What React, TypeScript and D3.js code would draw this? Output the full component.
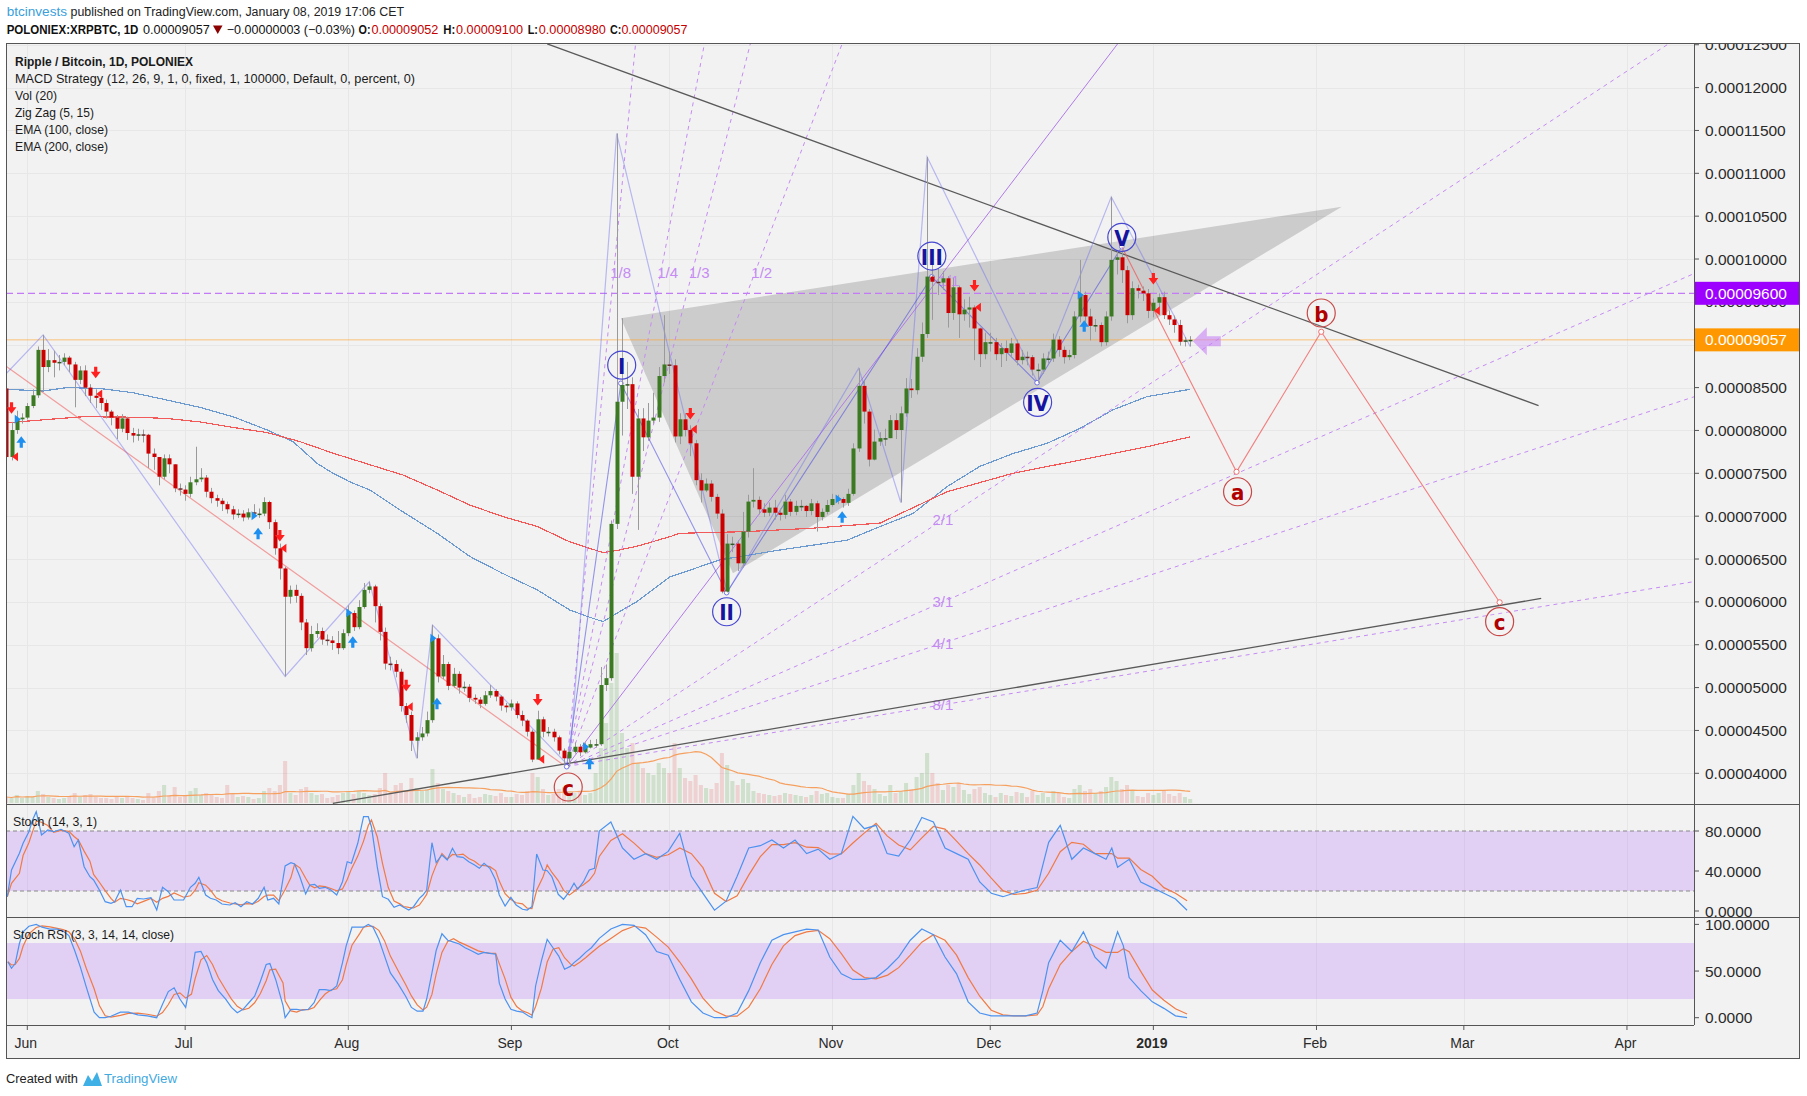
import React from "react";
import * as d3 from "d3";

// ---------------- DATA (prices in units of 1e-6 BTC: 90.57 = 0.00009057) ----------------
const JUN1 = Date.UTC(2018, 5, 1);
const DAY = 86400000;
const FIRST_DAY = -4; // 2018-05-28 (days counted from 2018-06-01)
const FIRST_OPEN = 84.9;

const closeMay = [76.9, 80.05, 81.3, 81.5];
const highMay = [85.5, 81.0, 82.3, 82.0];
const lowMay = [76.2, 76.5, 79.6, 80.8];

const closeJun = [82.85, 84.1, 89.4, 87.4, 88.2, 87.9, 88.0, 88.5, 87.7, 85.9, 87.0, 85.0, 84.05, 83.8, 83.2, 82.2, 81.5, 80.2, 81.4, 79.7, 79.4, 79.55, 79.5, 77.3, 76.9, 74.6, 76.75, 76.05, 73.25, 73.1];
const highJun = [83.2, 84.8, 89.8, 91.15, 89.5, 89.3, 88.8, 89.0, 88.7, 88.0, 87.5, 87.6, 85.4, 84.8, 84.0, 83.6, 82.4, 81.8, 81.9, 81.6, 80.3, 80.2, 80.1, 79.6, 77.9, 76.9, 77.2, 77.2, 76.0, 73.8];
const lowJun = [81.3, 82.6, 83.8, 84.6, 86.8, 86.2, 87.0, 87.6, 86.8, 82.7, 85.4, 84.0, 83.2, 82.6, 82.4, 81.4, 80.6, 79.0, 79.8, 78.9, 78.6, 78.8, 78.6, 75.6, 75.4, 73.6, 74.3, 75.0, 72.8, 72.4];

const closeJul = [72.6, 73.95, 74.3, 74.5, 72.85, 72.1, 71.8, 71.4, 70.8, 70.2, 70.3, 69.85, 70.45, 70.3, 70.3, 71.65, 69.3, 66.25, 63.9, 60.6, 61.4, 60.7, 57.6, 54.6, 56.25, 56.6, 55.6, 55.5, 55.2, 54.6, 56.35];
const highJul = [73.6, 74.6, 78.1, 75.6, 74.8, 73.3, 72.5, 72.1, 71.7, 71.2, 70.8, 70.7, 70.9, 71.4, 70.9, 72.2, 71.8, 69.6, 66.8, 64.1, 61.9, 62.0, 61.0, 58.0, 57.2, 57.5, 57.0, 56.2, 56.0, 56.6, 56.8];
const lowJul = [71.8, 72.2, 73.6, 74.0, 72.2, 71.5, 71.1, 70.6, 70.3, 69.6, 69.8, 69.4, 69.6, 69.9, 69.8, 70.0, 68.5, 65.5, 62.6, 51.3, 59.8, 59.9, 56.7, 53.8, 54.2, 55.8, 55.0, 54.9, 54.4, 53.9, 54.4];

const closeAug = [58.7, 57.05, 59.4, 61.4, 61.8, 59.5, 56.5, 52.8, 52.75, 51.85, 47.85, 46.8, 43.8, 44.2, 44.65, 46.2, 55.75, 51.3, 52.75, 50.2, 51.6, 50.0, 50.1, 48.8, 48.6, 48.1, 49.1, 49.6, 48.95, 47.9, 47.7];
const highAug = [59.6, 59.0, 60.2, 62.2, 62.35, 62.0, 59.8, 57.0, 53.6, 53.2, 52.2, 48.2, 47.2, 44.8, 45.4, 47.2, 57.3, 56.2, 53.8, 53.0, 52.3, 51.9, 50.7, 50.4, 49.2, 48.9, 49.6, 50.3, 49.8, 49.1, 48.2];
const lowAug = [56.0, 56.6, 56.8, 59.2, 61.0, 57.6, 55.5, 52.1, 52.0, 51.2, 47.2, 45.9, 42.6, 41.75, 43.8, 44.3, 45.9, 50.6, 51.0, 49.7, 50.0, 49.3, 49.5, 48.3, 48.1, 47.6, 47.9, 48.8, 48.4, 47.3, 47.1];

const closeSep = [48.15, 46.8, 46.15, 44.85, 41.6, 46.3, 44.85, 44.85, 44.2, 42.65, 41.75, 42.5, 43.1, 42.45, 43.0, 43.4, 43.4, 50.3, 51.1, 69.1, 83.35, 85.3, 85.4, 74.6, 81.4, 79.2, 81.15, 81.5, 86.35, 87.7];
const highSep = [48.6, 48.4, 47.3, 46.3, 45.1, 47.3, 46.6, 45.4, 45.2, 44.4, 42.9, 42.8, 43.6, 43.4, 43.6, 43.9, 44.0, 52.4, 52.7, 69.5, 114.65, 93.1, 88.0, 86.2, 82.5, 82.6, 83.2, 84.4, 87.4, 93.45];
const lowSep = [47.3, 46.4, 45.5, 44.3, 41.3, 41.6, 44.2, 44.3, 43.7, 42.2, 41.2, 40.8, 42.3, 42.0, 42.3, 42.9, 43.0, 43.2, 49.6, 50.8, 68.5, 79.4, 82.5, 72.6, 68.4, 77.6, 78.8, 80.8, 81.0, 85.6];

const closeOct = [87.6, 79.3, 81.3, 80.05, 78.5, 74.2, 73.0, 73.8, 72.25, 70.3, 61.2, 66.8, 66.8, 64.5, 68.2, 71.7, 71.9, 70.8, 70.4, 71.0, 70.4, 70.15, 71.7, 70.5, 71.2, 71.2, 70.6, 71.5, 69.9, 70.5, 71.3];
const highOct = [89.2, 88.3, 82.0, 82.0, 80.6, 78.9, 75.0, 74.4, 74.2, 72.6, 70.8, 67.9, 67.6, 67.2, 70.5, 72.5, 75.6, 72.3, 71.5, 71.6, 71.9, 70.9, 72.5, 72.0, 71.8, 71.9, 71.3, 72.0, 71.8, 70.9, 71.9];
const lowOct = [86.6, 78.6, 78.4, 79.3, 77.0, 73.6, 71.6, 72.8, 71.7, 69.7, 61.0, 61.1, 65.8, 63.6, 64.0, 67.5, 71.0, 70.2, 69.9, 70.0, 69.6, 69.5, 69.7, 70.0, 70.1, 70.6, 69.9, 70.1, 68.2, 69.5, 70.2];

const closeNov = [72.0, 72.0, 71.55, 72.6, 77.9, 85.2, 82.2, 76.6, 78.7, 79.1, 79.1, 81.2, 80.05, 82.0, 84.9, 84.7, 88.6, 91.25, 97.95, 97.35, 97.25, 97.75, 93.7, 96.7, 93.55, 94.1, 94.35, 91.9, 88.9, 90.3];
const highNov = [72.6, 72.5, 72.2, 73.2, 78.5, 87.25, 85.8, 82.5, 80.1, 79.8, 80.2, 81.8, 82.0, 82.8, 86.1, 86.0, 89.6, 92.6, 111.9, 99.5, 98.9, 98.6, 98.0, 97.8, 96.9, 95.3, 95.6, 94.6, 92.0, 91.4];
const lowNov = [71.1, 71.4, 71.0, 71.2, 72.4, 77.5, 80.8, 75.8, 76.5, 78.2, 78.2, 79.5, 79.0, 71.6, 81.6, 83.8, 84.2, 88.0, 90.8, 92.9, 95.8, 96.4, 92.0, 92.9, 90.8, 92.8, 92.0, 88.2, 87.4, 88.3];

const closeDec = [90.3, 88.9, 89.6, 89.05, 90.15, 88.2, 88.6, 88.55, 87.1, 87.1, 88.4, 88.4, 90.6, 89.4, 88.55, 88.8, 93.3, 95.8, 93.3, 92.2, 92.3, 90.3, 93.3, 99.9, 100.2, 98.7, 93.45, 96.6, 96.3, 96.0, 93.95];
const highDec = [91.4, 90.8, 90.2, 90.5, 90.8, 90.6, 89.4, 89.2, 88.8, 87.8, 89.0, 89.2, 91.3, 91.0, 89.8, 89.4, 93.9, 99.9, 96.2, 94.2, 93.0, 92.6, 93.9, 107.25, 101.0, 101.2, 99.2, 97.4, 97.0, 96.8, 96.5];
const lowDec = [89.2, 88.2, 87.4, 88.1, 88.5, 87.6, 87.7, 87.6, 86.4, 85.55, 86.6, 87.8, 88.0, 88.6, 87.8, 88.2, 88.4, 92.6, 92.2, 90.5, 91.5, 89.8, 89.9, 92.8, 98.2, 97.2, 92.5, 92.9, 95.4, 95.1, 93.1];

const closeJan = [94.9, 95.55, 93.45, 92.95, 92.3, 90.35, 90.52, 90.57];
const highJan = [95.4, 96.0, 96.2, 94.0, 93.4, 92.9, 90.9, 91.0];
const lowJan = [93.2, 94.4, 93.0, 92.3, 91.4, 89.9, 89.8, 89.8];

// volume (relative units)
const volMay = [6, 5, 8, 5];
const volJun = [7, 6, 12, 9, 6, 5, 4, 5, 7, 10, 6, 8, 9, 6, 5, 5, 4, 7, 5, 6, 5, 4, 3, 10, 5, 12, 18, 8, 16, 6];
const volJul = [7, 12, 15, 8, 10, 9, 6, 5, 18, 10, 6, 7, 6, 4, 5, 12, 15, 12, 18, 42, 10, 8, 14, 16, 10, 8, 9, 5, 6, 8, 10];
const volAug = [12, 9, 12, 10, 8, 9, 15, 30, 10, 18, 20, 12, 25, 15, 12, 14, 34, 20, 14, 12, 10, 8, 6, 9, 5, 6, 9, 8, 7, 10, 6];
const volSep = [6, 9, 8, 12, 30, 26, 14, 8, 9, 14, 16, 12, 10, 12, 8, 10, 30, 55, 80, 120, 150, 70, 55, 60, 40, 35, 30, 28, 40, 35];
const volOct = [30, 60, 35, 25, 22, 28, 18, 15, 14, 20, 50, 38, 22, 18, 24, 20, 12, 10, 9, 8, 7, 8, 10, 9, 8, 7, 6, 8, 12, 9, 10];
const volNov = [6, 5, 5, 9, 18, 30, 22, 18, 14, 9, 7, 18, 10, 12, 20, 14, 26, 30, 50, 30, 20, 13, 18, 16, 20, 13, 9, 14, 16, 10];
const volDec = [8, 6, 10, 8, 7, 11, 10, 6, 12, 8, 10, 6, 12, 10, 6, 5, 14, 18, 12, 14, 10, 12, 16, 26, 22, 14, 18, 13, 7, 6, 10];
const volJan = [8, 10, 12, 9, 7, 10, 6, 4];

// EMA readings (day, value)
const ema100Day = [-3.9, 3, 7.5, 13.8, 20.1, 26.5, 32.8, 39.1, 45.6, 50.5, 55.1, 58.1, 61.3, 65.1, 71.4, 77.9, 84.1, 90.4, 96.9, 103.1, 106.4, 109.4, 112.1, 115.9, 122.1, 131.6, 143.0, 155.8, 162.1, 168.3, 174.8, 181.0, 187.3, 193.8, 200.1, 206.3, 212.8, 221];
const ema100Val = [84.8, 84.6, 85.0, 84.9, 84.4, 83.55, 82.7, 81.6, 80.05, 78.7, 76.15, 75.0, 74.0, 73.05, 70.5, 68.0, 65.3, 63.3, 61.4, 59.05, 58.3, 57.7, 58.7, 60.05, 62.9, 64.9, 66.05, 67.2, 68.8, 70.3, 73.45, 75.8, 77.3, 78.5, 80.25, 82.4, 83.95, 84.8];
const ema200Day = [-3.9, 4.3, 10.6, 20.1, 26.5, 32.8, 39.1, 45.6, 51.8, 58.1, 65.1, 71.4, 77.9, 84.1, 90.4, 96.9, 103.1, 109.4, 112.1, 115.9, 122.1, 124.0, 136.8, 149.3, 162.1, 174.8, 187.3, 200.1, 212.8, 221];
const ema200Val = [80.9, 81.3, 81.6, 81.55, 81.4, 81.0, 80.35, 79.75, 78.7, 77.35, 76.0, 74.8, 73.05, 71.3, 69.95, 68.8, 67.0, 65.75, 66.0, 66.5, 67.6, 68.0, 68.2, 68.6, 69.2, 72.85, 75.0, 76.55, 78.1, 79.25];

// Zig Zag pivots
const zzDay = [-3.9, 3, 49, 65, 74, 77, 103, 112, 133, 158, 166, 171, 192, 206, 221];
const zzVal = [86.7, 91.15, 51.3, 62.35, 41.75, 57.3, 40.8, 114.65, 61.1, 87.25, 71.6, 111.9, 85.55, 107.25, 89.8];

// Elliott wave points c, I, II, III, IV, V
const ewDay = [102.5, 112.8, 132.9, 171.9, 191.9, 208.0];
const ewVal = [40.77, 85.5, 61.07, 97.93, 85.57, 101.43];
const ewLabel = ["c", "I", "II", "III", "IV", "V"];
const ewLabelDay = [102.8, 112.96, 132.9, 171.9, 192.0, 208.0];
const ewLabelVal = [38.4, 87.63, 58.85, 100.35, 83.28, 102.53];

// projected correction a-b-c
const projDay = [208.0, 229.8, 245.9, 279.8];
const projVal = [101.43, 75.18, 91.51, 59.95];
const projLabel = ["a", "b", "c"];
const projLabelDay = [230.0, 245.9, 279.8];
const projLabelVal = [72.85, 93.7, 57.69];

// trend lines [d1, v1, d2, v2]
const trendDown = [98.8, 125.1, 287.2, 82.9];
const trendUp = [58.06, 36.5, 287.7, 60.4];
const redTrend = [-3.9, 87.43, 101.9, 40.97];
// wedge (triangle) vertices
const wedgeDay = [112.8, 249.8, 134.1];
const wedgeVal = [93.08, 106.1, 63.33];

// Gann fan
const fanOrigin = [102.5, 40.8];
const fanUnit = [174.0, 98.37];
const fanSteep = [1 / 8, 1 / 4, 1 / 3, 1 / 2];
const fanSteepLabel = ["1/8", "1/4", "1/3", "1/2"];
const fanFlat = [2, 3, 4, 8];
const fanFlatLabel = ["2/1", "3/1", "4/1", "8/1"];

// MACD strategy signals
const sigDay = [-3, -2, 13, 43, 48, 61, 72, 77, 97, 106, 126, 154, 180, 200, 214];
const sigSide = ["S", "B", "S", "B", "S", "B", "S", "B", "S", "B", "S", "B", "S", "B", "S"];
const sigArrow = [82.58, 78.68, 86.73, 68.0, 67.68, 55.35, 50.22, 48.17, 48.55, 41.17, 81.92, 69.93, 96.84, 92.22, 97.66];
const sigMark = [76.93, 81.3, 84.25, 70.05, 66.25, 58.74, 47.77, 55.75, 41.63, 43.1, 80.13, 72.0, 94.36, 95.79, 93.96];

// horizontal levels
const levelPurple = 96.0;
const lastClose = 90.57;
const pointerAt = [223.4, 90.4];

// Stoch (14,3,1) %K readings (day, value)
const stochDay = [-3.8, -3.0, -1.5, -0.8, 0.3, 1.0, 1.7, 2.7, 3.9, 5.0, 6.4, 7.9, 8.9, 9.7, 10.8, 11.9, 12.6, 13.7, 14.8, 15.9, 16.6, 17.7, 18.8, 19.9, 20.9, 22.1, 23.5, 24.6, 25.7, 26.8, 27.9, 29.7, 31.0, 31.9, 32.6, 33.9, 34.8, 35.9, 37.0, 38.5, 39.5, 40.6, 41.7, 42.8, 43.9, 45.0, 45.7, 46.8, 47.8, 49.0, 50.1, 50.8, 51.8, 52.9, 53.7, 54.6, 55.5, 56.6, 57.7, 58.8, 59.9, 60.8, 61.6, 62.8, 63.9, 64.8, 65.4, 66.5, 67.5, 68.6, 69.7, 70.8, 71.5, 72.5, 73.4, 74.5, 75.2, 75.9, 76.9, 77.7, 78.8, 79.8, 80.8, 81.7, 82.8, 83.9, 85.0, 85.9, 86.8, 87.9, 89.0, 89.7, 90.8, 91.9, 92.9, 94.1, 95.0, 95.9, 96.8, 98.0, 98.8, 99.7, 100.9, 101.9, 103.0, 103.9, 104.6, 105.7, 106.8, 107.8, 108.7, 110.9, 113.1, 115.3, 117.5, 119.6, 121.8, 124.0, 126.2, 128.4, 130.6, 132.8, 134.9, 137.1, 139.3, 141.5, 143.7, 145.9, 148.1, 150.3, 152.5, 154.7, 156.9, 159.1, 161.3, 163.4, 165.6, 167.8, 170.0, 172.2, 174.4, 176.6, 178.8, 181.0, 183.2, 185.4, 187.5, 189.7, 191.9, 194.1, 196.3, 198.5, 200.7, 202.9, 205.0, 206.1, 207.2, 209.4, 211.6, 213.8, 216.0, 218.2, 220.4];
const stochK = [14.3, 41, 57.7, 67.7, 79.3, 91, 99.3, 76, 81, 79.3, 81.7, 77.7, 64.3, 71, 44.3, 34.3, 31, 21, 9.3, 7.7, 9.3, 21, 4.3, 4.3, 12.7, 12, 13.3, 1, 23.7, 19.3, 11, 11, 23.7, 27.7, 33.7, 16, 12.7, 11, 7, 6, 8.3, 4.3, 9.3, 7, 12.7, 23.7, 11, 12.7, 7, 45, 48.3, 47, 34.3, 17, 26, 26.7, 22.7, 23.7, 21, 16, 29.3, 49.3, 47.7, 67.7, 94.3, 94.3, 84.3, 44.3, 14.3, 11.7, 3.7, 6, 3.7, 1, 4.3, 12.7, 16, 21, 68.3, 48.3, 56, 51, 62.7, 54.3, 53.7, 49.3, 46, 42.7, 47.7, 42.7, 31, 16, 5, 13.7, 6, 1.7, 1, 4.3, 57, 41, 40.3, 34.3, 16.7, 11.7, 19.3, 27.7, 21.7, 29.3, 41, 42.7, 80, 89, 63, 51.7, 57.4, 51.7, 59.6, 77.7, 34.7, 17.7, 0.8, 9.8, 34.7, 63, 65.3, 71, 63, 71, 57.4, 61.9, 51.7, 57.4, 94.7, 82.3, 85.7, 57.4, 55, 71, 93.6, 89, 63, 57.4, 51.7, 29, 17.7, 14.3, 17.7, 21, 23.4, 68.7, 85.7, 51.7, 63, 57.4, 51.7, 63, 43.8, 51.7, 29, 23.4, 17.7, 12, 0.8];

// Stoch RSI (3,3,14,14) %K readings (day, value)
const rsiDay = [-3.7, -3.0, -2.3, -1.5, -0.8, 0.3, 1.7, 2.8, 4.3, 5.7, 6.8, 7.9, 9.0, 10.1, 11.2, 12.7, 13.7, 14.8, 15.9, 17.7, 19.2, 21.0, 22.8, 24.6, 25.7, 26.8, 27.9, 29.0, 30.1, 31.2, 31.9, 33.0, 34.1, 35.2, 36.3, 37.7, 38.8, 39.9, 41.0, 42.1, 43.2, 44.3, 45.4, 46.1, 47.2, 48.6, 49.0, 50.1, 51.2, 52.3, 53.4, 54.5, 55.5, 56.6, 57.7, 58.8, 59.9, 60.6, 61.7, 63.2, 63.9, 64.8, 65.7, 66.8, 67.9, 69.0, 70.5, 71.9, 73.0, 74.1, 75.2, 75.9, 76.9, 77.7, 78.8, 79.9, 81.0, 82.1, 83.2, 84.3, 85.7, 86.8, 87.9, 89.0, 89.7, 90.8, 91.9, 93.0, 94.1, 95.2, 95.9, 96.6, 97.7, 98.8, 99.9, 101.0, 102.1, 103.2, 103.9, 105.0, 106.1, 107.2, 108.7, 110.9, 113.1, 115.3, 117.5, 119.6, 121.8, 124.0, 126.2, 128.4, 130.6, 132.8, 134.9, 137.1, 139.3, 141.5, 143.7, 145.9, 148.1, 150.3, 152.5, 154.7, 156.9, 159.1, 161.3, 163.5, 165.6, 167.8, 170.0, 172.2, 174.4, 176.6, 178.8, 181.0, 183.2, 185.4, 187.5, 189.7, 191.9, 193.0, 194.1, 196.3, 198.5, 200.7, 202.9, 205.0, 207.2, 208.3, 209.4, 211.6, 213.8, 216.0, 218.2, 220.4];
const rsiK = [60, 53, 58, 79.5, 92, 98, 100, 97, 95, 95, 93, 88, 72, 54, 33, 6, 0, 0, 1.6, 6, 6, 3, 2, 0, 14.5, 28, 32, 20, 11, 45, 70, 71, 59, 41, 29, 20, 11, 5.4, 9, 16, 23, 39, 57, 58, 41, 13, 0, 9, 9, 8, 9, 16, 30, 30, 29, 34, 59, 77, 97, 97, 97, 100, 97, 84, 66, 48, 36, 23, 11, 7, 7, 20, 48, 72, 90, 83, 81, 79, 75, 72, 68, 70, 69, 68, 37, 20, 9, 7, 6, 2, 0, 34, 61, 84, 75, 66, 52, 55, 59, 64, 70, 75, 85, 95, 100, 99, 89, 71, 67, 41, 17, 5, 0, 0, 5, 29, 59, 83, 89, 92, 95, 94, 65, 47, 41, 41, 43, 53, 65, 83, 95, 89, 65, 47, 17, 5, 2, 2, 2, 2, 5, 29, 59, 83, 71, 92, 65, 53, 92, 77, 43, 29, 17, 10, 2, 0];

// axis ticks (0.00009000 is hidden by the last-price box in the original)
const priceTicks = d3.range(40, 125.01, 5);
const hiddenPriceLabels = [90];
const stochTicks = [80, 40, 0];
const rsiTicks = [100, 50, 0];

// header pieces: text, left x, width, color, bold
const headerLine1 = [
  ["btcinvests", 6.7, 60.3, "#39a0db", 0],
  ["published on TradingView.com, January 08, 2019 17:06 CET", 70.5, 333.5, "#222", 0],
];
const headerLine2 = [
  ["POLONIEX:XRPBTC, 1D", 6.7, 131.7, "#111", 1],
  ["0.00009057", 142.9, 66.9, "#111", 0],
  ["−0.00000003 (−0.03%)", 226.8, 128.2, "#111", 0],
  ["O:", 358.5, 12, "#111", 1],
  ["0.00009052", 371.4, 67, "#c40000", 0],
  ["H:", 443.3, 12, "#111", 1],
  ["0.00009100", 456, 67, "#c40000", 0],
  ["L:", 527.7, 10.3, "#111", 1],
  ["0.00008980", 538.8, 67, "#c40000", 0],
  ["C:", 610, 11.4, "#111", 1],
  ["0.00009057", 621.4, 66.1, "#c40000", 0],
];

// ---------------- LAYOUT ----------------
const FONT = "'Liberation Sans', Arial, sans-serif";
const PL = 6, PR = 1694, AR = 1800, PT = 43, MB = 804, SB = 917, RB = 1025, BB = 1059;

export default function App() {
  const closes = [...closeMay, ...closeJun, ...closeJul, ...closeAug, ...closeSep, ...closeOct, ...closeNov, ...closeDec, ...closeJan];
  const highs = [...highMay, ...highJun, ...highJul, ...highAug, ...highSep, ...highOct, ...highNov, ...highDec, ...highJan];
  const lows = [...lowMay, ...lowJun, ...lowJul, ...lowAug, ...lowSep, ...lowOct, ...lowNov, ...lowDec, ...lowJan];
  const vols = [...volMay, ...volJun, ...volJul, ...volAug, ...volSep, ...volOct, ...volNov, ...volDec, ...volJan];

  const candles = closes.map((c, i) => {
    const o = i === 0 ? FIRST_OPEN : closes[i - 1];
    return { d: FIRST_DAY + i, o, c, h: Math.max(highs[i], o, c), l: Math.min(lows[i], o, c), v: vols[i] };
  });
  const volMA = vols.map((_, i) => d3.mean(vols.slice(Math.max(0, i - 19), i + 1)) as number);

  const x = d3.scaleUtc().domain([new Date(Date.UTC(2018, 4, 28)), new Date(Date.UTC(2019, 3, 13))]).range([6.25, 1690.1]);
  const xd = (d: number) => x(new Date(JUN1 + d * DAY));
  const y = d3.scaleLinear().domain([40, 120]).range([773.3, 87.6]);
  const yv = d3.scaleLinear().domain([0, 100]).range([803, 703]);
  const ys = d3.scaleLinear().domain([0, 100]).range([911, 811]);
  const yr = d3.scaleLinear().domain([0, 100]).range([1017.7, 924.4]);

  const months = d3.utcMonth.range(new Date(Date.UTC(2018, 5, 1)), new Date(Date.UTC(2019, 4, 1)));
  const lineP = d3.line<[number, number]>().x((p) => xd(p[0])).y((p) => y(p[1]));
  const lineV = d3.line<[number, number]>().x((p) => xd(p[0])).y((p) => yv(p[1]));
  const zip = (a: number[], b: number[]) => a.map((v, i) => [v, b[i]] as [number, number]);

  const stochD = stochK.map((_, i) => d3.mean(stochK.slice(Math.max(0, i - 2), i + 1)) as number);
  const rsiD = rsiK.map((_, i) => d3.mean(rsiK.slice(Math.max(0, i - 2), i + 1)) as number);
  const lineS = d3.line<[number, number]>().x((p) => xd(p[0])).y((p) => ys(p[1]));
  const lineR = d3.line<[number, number]>().x((p) => xd(p[0])).y((p) => yr(Math.max(0, Math.min(100, p[1]))));

  // Gann fan geometry
  const fo = [xd(fanOrigin[0]), y(fanOrigin[1])];
  const fu = [xd(fanUnit[0]), y(fanUnit[1])];
  const fdx = fu[0] - fo[0], fdy = fu[1] - fo[1];
  const fanPt = (ex: number, ey: number) => [fo[0] + ex * 6, fo[1] + ey * 6];

  const seg = (t: number[]) => ({ x1: xd(t[0]), y1: y(t[1]), x2: xd(t[2]), y2: y(t[3]) });
  const tD = seg(trendDown), tU = seg(trendUp), tR = seg(redTrend);

  const downArrow = (cx: number, cy: number) => `M${cx - 1.6},${cy - 6} h3.2 v5 h3.3 l-4.9,6.5 l-4.9,-6.5 h3.3 z`;
  const upArrow = (cx: number, cy: number) => `M${cx - 1.6},${cy + 6} h3.2 v-5 h3.3 l-4.9,-6.5 l-4.9,6.5 h3.3 z`;
  const leftTri = (cx: number, cy: number) => `M${cx - 3},${cy} L${cx + 3},${cy - 4.5} L${cx + 3},${cy + 4.5} Z`;
  const rightTri = (cx: number, cy: number) => `M${cx + 3},${cy} L${cx - 3},${cy - 4.5} L${cx - 3},${cy + 4.5} Z`;

  const fmtP = (v: number) => (v * 1e-6).toFixed(8);
  const px = xd(pointerAt[0]), py = y(pointerAt[1]);
  const narrow = "'Liberation Sans Narrow', 'DejaVu Sans Condensed', sans-serif";

  return (
    <svg width={1807} height={1096} style={{ position: "absolute", left: 0, top: 0, background: "#fff" }} fontFamily={FONT}>
      <defs>
        <clipPath id="main"><rect x={PL} y={PT} width={PR - PL} height={MB - PT} /></clipPath>
        <clipPath id="stc"><rect x={PL} y={MB} width={PR - PL} height={SB - MB} /></clipPath>
        <clipPath id="rsc"><rect x={PL} y={SB} width={PR - PL} height={RB - SB} /></clipPath>
        <clipPath id="axc"><rect x={PR} y={PT} width={AR - PR} height={MB - PT} /></clipPath>
      </defs>

      {/* header */}
      <g fontSize={12.5}>
        {headerLine1.map((h, i) => (
          <text key={"h1" + i} x={h[1] as number} y={16} textLength={h[2] as number} lengthAdjust="spacingAndGlyphs" fill={h[3] as string}>{h[0] as string}</text>
        ))}
        {headerLine2.map((h, i) => (
          <text key={"h2" + i} x={h[1] as number} y={34} textLength={h[2] as number} lengthAdjust="spacingAndGlyphs" fill={h[3] as string} fontWeight={h[4] ? "bold" : "normal"}>{h[0] as string}</text>
        ))}
        <path d="M213,25.5 L222.5,25.5 L217.75,34 Z" fill="#8b0000" />
      </g>

      {/* chart background */}
      <rect x={PL} y={PT} width={AR - PL} height={BB - PT} fill="#f2f2f2" />

      {/* grid */}
      <g stroke="#e7e7e7" strokeWidth={1}>
        {priceTicks.map((v) => <line key={"hg" + v} x1={PL} x2={PR} y1={Math.round(y(v)) + 0.5} y2={Math.round(y(v)) + 0.5} />)}
        {months.map((m, i) => <line key={"vg" + i} x1={Math.round(x(m)) + 0.5} x2={Math.round(x(m)) + 0.5} y1={PT} y2={RB} />)}
      </g>

      {/* ---------- main panel ---------- */}
      <g clipPath="url(#main)">
        {/* volume */}
        {candles.map((k) => (
          <rect key={"v" + k.d} x={xd(k.d) - 2} width={4} y={yv(k.v)} height={yv(0) - yv(k.v)}
            fill={k.c >= k.o ? "rgba(80,160,70,0.22)" : "rgba(225,90,90,0.22)"} />
        ))}
        <path d={lineV(candles.map((k, i) => [k.d, volMA[i]] as [number, number])) || ""} fill="none" stroke="#f6a060" strokeWidth={1.2} />

        {/* wedge */}
        <polygon points={wedgeDay.map((d, i) => `${xd(d)},${y(wedgeVal[i])}`).join(" ")} fill="rgba(0,0,0,0.155)" />

        {/* horizontal levels */}
        <line x1={PL} x2={PR} y1={y(levelPurple)} y2={y(levelPurple)} stroke="#c27af5" strokeWidth={1.3} strokeDasharray="7 4" />
        <line x1={PL} x2={PR} y1={y(lastClose)} y2={y(lastClose)} stroke="rgba(255,160,40,0.6)" strokeWidth={1} />

        {/* EMAs */}
        <path d={lineP(zip(ema100Day, ema100Val)) || ""} fill="none" stroke="#6d9bd0" strokeWidth={1.2} shapeRendering="crispEdges" />
        <path d={lineP(zip(ema200Day, ema200Val)) || ""} fill="none" stroke="#f25a5a" strokeWidth={1.2} shapeRendering="crispEdges" />

        {/* Gann fan */}
        <g stroke="#c58bf3" strokeWidth={1} fill="none">
          {fanSteep.map((k, i) => {
            const e = fanPt(k * fdx, fdy);
            return <line key={"fs" + i} x1={fo[0]} y1={fo[1]} x2={e[0]} y2={e[1]} strokeDasharray="4 4" />;
          })}
          {fanFlat.map((n, i) => {
            const e = fanPt(fdx, fdy / n);
            return <line key={"ff" + i} x1={fo[0]} y1={fo[1]} x2={e[0]} y2={e[1]} strokeDasharray="4 4" />;
          })}
          {(() => { const e = fanPt(fdx, fdy); return <line x1={fo[0]} y1={fo[1]} x2={e[0]} y2={e[1]} stroke="#b07ae8" />; })()}
        </g>
        <g fill="#c58bf3" fontSize={15} textAnchor="middle" dominantBaseline="central">
          {fanSteep.map((k, i) => <text key={"fsl" + i} x={fo[0] + k * fdx + 7} y={fo[1] + fdy}>{fanSteepLabel[i]}</text>)}
          {fanFlat.map((n, i) => <text key={"ffl" + i} x={fo[0] + fdx} y={fo[1] + fdy / n}>{fanFlatLabel[i]}</text>)}
          <text x={fo[0] + fdx + 6} y={fo[1] + fdy + 8}>1/1</text>
        </g>

        {/* red trend & dark trend lines */}
        <line {...tR} stroke="rgba(240,100,100,0.6)" strokeWidth={1.2} />
        <line {...tD} stroke="#5a5a5a" strokeWidth={1.3} />
        <line {...tU} stroke="#5a5a5a" strokeWidth={1.3} />

        {/* zig zag */}
        <path d={lineP(zip(zzDay, zzVal)) || ""} fill="none" stroke="rgba(110,110,240,0.45)" strokeWidth={1.2} />
        {/* elliott wave path */}
        <path d={lineP(zip(ewDay, ewVal)) || ""} fill="none" stroke="rgba(70,70,225,0.55)" strokeWidth={1.1} />
        {ewDay.map((d, i) => <circle key={"ep" + i} cx={xd(d)} cy={y(ewVal[i])} r={2.3} fill="#fff" stroke="rgba(70,70,225,0.7)" />)}

        {/* projection a-b-c */}
        <path d={lineP(zip(projDay, projVal)) || ""} fill="none" stroke="rgba(240,90,90,0.75)" strokeWidth={1.1} />
        {projDay.slice(1).map((d, i) => <circle key={"pp" + i} cx={xd(d)} cy={y(projVal[i + 1])} r={2.6} fill="#fff" stroke="rgba(240,90,90,0.85)" />)}

        {/* candles */}
        {candles.map((k) => {
          const cx = Math.round(xd(k.d));
          const up = k.c >= k.o;
          const top = y(Math.max(k.o, k.c)), bot = y(Math.min(k.o, k.c));
          const h = Math.max(1.5, bot - top);
          return (
            <g key={"c" + k.d}>
              <line x1={cx + 0.5} x2={cx + 0.5} y1={y(k.h)} y2={y(k.l)} stroke="#9a9a9a" strokeWidth={1} />
              <rect x={cx - 1.5} width={4} y={top} height={h} fill={bot - top < 1.5 ? (up ? "#2f5a22" : "#6a2a2a") : up ? "#3b7a22" : "#cc0000"} />
            </g>
          );
        })}

        {/* signals */}
        {sigDay.map((d, i) => {
          const cx = xd(d);
          if (sigSide[i] === "S")
            return (
              <g key={"sg" + i} fill="#ff1f1f">
                <path d={downArrow(cx, y(sigArrow[i]))} />
                <path d={leftTri(cx + 3.5, y(sigMark[i]))} />
              </g>
            );
          return (
            <g key={"sg" + i} fill="#1d8ff0">
              <path d={rightTri(cx + 1, y(sigMark[i]))} />
              <path d={upArrow(cx + 4.5, y(sigArrow[i]))} />
            </g>
          );
        })}

        {/* wave labels */}
        {ewLabel.map((t, i) => {
          const cx = xd(ewLabelDay[i]), cy = y(ewLabelVal[i]);
          const red = t === "c";
          return (
            <g key={"wl" + i}>
              <circle cx={cx} cy={cy} r={14} fill="rgba(255,255,255,0.12)" stroke={red ? "#c84848" : "#4646d0"} strokeWidth={1.2} />
              <text x={cx} y={cy + 1} textAnchor="middle" dominantBaseline="central" fontSize={22} fontWeight="bold"
                fontFamily={narrow} fill={red ? "#b00000" : "#1414a0"}>{t}</text>
            </g>
          );
        })}
        {projLabel.map((t, i) => {
          const cx = xd(projLabelDay[i]), cy = y(projLabelVal[i]);
          return (
            <g key={"pl" + i}>
              <circle cx={cx} cy={cy} r={14} fill="rgba(255,255,255,0.12)" stroke="#c84848" strokeWidth={1.2} />
              <text x={cx} y={cy + 1} textAnchor="middle" dominantBaseline="central" fontSize={22} fontWeight="bold"
                fontFamily={narrow} fill="#b00000">{t}</text>
            </g>
          );
        })}

        {/* pointer arrow */}
        <path d={`M${px - 10},${py} L${px + 4},${py - 14} L${px + 4},${py - 5} L${px + 18},${py - 5} L${px + 18},${py + 5} L${px + 4},${py + 5} L${px + 4},${py + 14} Z`} fill="rgba(200,130,245,0.6)" />
      </g>

      {/* legend */}
      <g fill="#1a1a1a" fontSize={13}>
        <text x={15} y={65.5} fontWeight="bold" textLength={178} lengthAdjust="spacingAndGlyphs">Ripple / Bitcoin, 1D, POLONIEX</text>
        <text x={15} y={83} textLength={400} lengthAdjust="spacingAndGlyphs">MACD Strategy (12, 26, 9, 1, 0, fixed, 1, 100000, Default, 0, percent, 0)</text>
        <text x={15} y={100} textLength={42} lengthAdjust="spacingAndGlyphs">Vol (20)</text>
        <text x={15} y={116.5} textLength={79} lengthAdjust="spacingAndGlyphs">Zig Zag (5, 15)</text>
        <text x={15} y={133.5} textLength={93} lengthAdjust="spacingAndGlyphs">EMA (100, close)</text>
        <text x={15} y={150.5} textLength={93} lengthAdjust="spacingAndGlyphs">EMA (200, close)</text>
      </g>

      {/* ---------- Stoch panel ---------- */}
      <g clipPath="url(#stc)">
        <rect x={PL} y={ys(80)} width={PR - PL} height={ys(20) - ys(80)} fill="rgba(160,70,255,0.2)" />
        <line x1={PL} x2={PR} y1={ys(80)} y2={ys(80)} stroke="#888" strokeDasharray="4 3" />
        <line x1={PL} x2={PR} y1={ys(20)} y2={ys(20)} stroke="#888" strokeDasharray="4 3" />
        <path d={lineS(zip(stochDay, stochD)) || ""} fill="none" stroke="#f07a45" strokeWidth={1.2} />
        <path d={lineS(zip(stochDay, stochK)) || ""} fill="none" stroke="#4c92f0" strokeWidth={1.2} />
      </g>
      <text x={13} y={826} fontSize={13} fill="#1a1a1a" textLength={84} lengthAdjust="spacingAndGlyphs">Stoch (14, 3, 1)</text>

      {/* ---------- Stoch RSI panel ---------- */}
      <g clipPath="url(#rsc)">
        <rect x={PL} y={yr(80)} width={PR - PL} height={yr(20) - yr(80)} fill="rgba(160,70,255,0.2)" />
        <path d={lineR(zip(rsiDay, rsiD)) || ""} fill="none" stroke="#f07a45" strokeWidth={1.2} />
        <path d={lineR(zip(rsiDay, rsiK)) || ""} fill="none" stroke="#4c92f0" strokeWidth={1.2} />
      </g>
      <text x={13} y={939} fontSize={13} fill="#1a1a1a" textLength={161} lengthAdjust="spacingAndGlyphs">Stoch RSI (3, 3, 14, 14, close)</text>

      {/* ---------- right axis ---------- */}
      <g clipPath="url(#axc)" fontSize={15.5} fill="#2a2a2a">
        {priceTicks.map((v) => (
          <g key={"pt" + v}>
            <line x1={PR} x2={PR + 5} y1={y(v)} y2={y(v)} stroke="#555" />
            {hiddenPriceLabels.includes(v) ? null : <text x={1705} y={y(v) + 5.5}>{fmtP(v)}</text>}
          </g>
        ))}
        <rect x={PR} y={y(levelPurple) - 11.5} width={AR - PR} height={23} fill="#9d00ff" />
        <text x={1705} y={y(levelPurple) + 5.5} fill="#fff">{fmtP(levelPurple)}</text>
        <rect x={PR} y={y(lastClose) - 11.5} width={AR - PR} height={23} fill="#ff9800" />
        <text x={1705} y={y(lastClose) + 5.5} fill="#fff">{fmtP(lastClose)}</text>
      </g>
      <g fontSize={15.5} fill="#2a2a2a">
        {stochTicks.map((v) => (
          <g key={"st" + v}>
            <line x1={PR} x2={PR + 5} y1={ys(v)} y2={ys(v)} stroke="#555" />
            <text x={1705} y={ys(v) + 5.5}>{v.toFixed(4)}</text>
          </g>
        ))}
        {rsiTicks.map((v) => (
          <g key={"rt" + v}>
            <line x1={PR} x2={PR + 5} y1={yr(v)} y2={yr(v)} stroke="#555" />
            <text x={1705} y={yr(v) + 5.5}>{v.toFixed(4)}</text>
          </g>
        ))}
      </g>

      {/* ---------- time axis ---------- */}
      <g fontSize={14} fill="#2a2a2a" textAnchor="middle">
        {months.map((m, i) => {
          const mx = x(m);
          const jan = m.getUTCMonth() === 0;
          return (
            <g key={"mt" + i}>
              <line x1={mx} x2={mx} y1={RB} y2={RB + 5} stroke="#555" />
              <text x={mx - 1.5} y={1048} fontWeight={jan ? "bold" : "normal"}>{jan ? String(m.getUTCFullYear()) : d3.utcFormat("%b")(m)}</text>
            </g>
          );
        })}
      </g>

      {/* borders */}
      <g stroke="#555" strokeWidth={1} fill="none">
        <rect x={PL + 0.5} y={PT + 0.5} width={AR - PL - 1} height={BB - PT - 1} />
        <line x1={PR + 0.5} x2={PR + 0.5} y1={PT} y2={RB} />
        <line x1={PL} x2={AR} y1={MB + 0.5} y2={MB + 0.5} />
        <line x1={PL} x2={AR} y1={SB + 0.5} y2={SB + 0.5} />
        <line x1={PL} x2={PR} y1={RB + 0.5} y2={RB + 0.5} />
      </g>

      {/* footer */}
      <text x={6} y={1083} fontSize={12.5} fill="#222" textLength={72} lengthAdjust="spacingAndGlyphs">Created with</text>
      <path d="M83,1086 L88,1075 L92,1081 L97,1072 L102,1086 Z" fill="#3fb0e6" />
      <text x={104} y={1083} fontSize={12.5} fill="#3fa9e0" textLength={73} lengthAdjust="spacingAndGlyphs">TradingView</text>
    </svg>
  );
}
